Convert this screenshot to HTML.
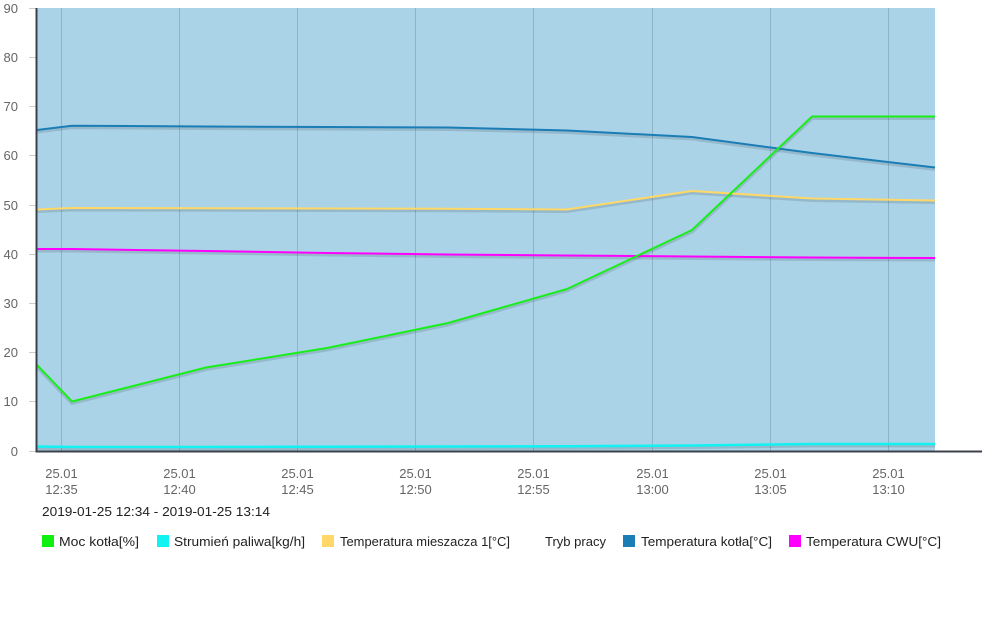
<!DOCTYPE html>
<html>
<head>
<meta charset="utf-8">
<style>
  html,body{margin:0;padding:0;background:#fff;}
  svg{display:block;}
  text{font-family:"Liberation Sans",sans-serif;}
</style>
</head>
<body>
<svg width="1000" height="626" viewBox="0 0 1000 626" xmlns="http://www.w3.org/2000/svg">
  <!-- plot background -->
  <rect x="37" y="8" width="898" height="443.5" fill="#aad3e8"/>
  <!-- vertical grid -->
  <g stroke="#8eb2c6" stroke-width="1">
    <line x1="61.5" y1="8" x2="61.5" y2="451"/>
    <line x1="179.5" y1="8" x2="179.5" y2="451"/>
    <line x1="297.5" y1="8" x2="297.5" y2="451"/>
    <line x1="415.5" y1="8" x2="415.5" y2="451"/>
    <line x1="533.5" y1="8" x2="533.5" y2="451"/>
    <line x1="652.5" y1="8" x2="652.5" y2="451"/>
    <line x1="770.5" y1="8" x2="770.5" y2="451"/>
    <line x1="888.5" y1="8" x2="888.5" y2="451"/>
  </g>
  <!-- y ticks -->
  <g stroke="#cccccc" stroke-width="1">
    <line x1="29" y1="8.5" x2="36" y2="8.5"/>
    <line x1="29" y1="57.5" x2="36" y2="57.5"/>
    <line x1="29" y1="106.5" x2="36" y2="106.5"/>
    <line x1="29" y1="155.5" x2="36" y2="155.5"/>
    <line x1="29" y1="205.5" x2="36" y2="205.5"/>
    <line x1="29" y1="254.5" x2="36" y2="254.5"/>
    <line x1="29" y1="303.5" x2="36" y2="303.5"/>
    <line x1="29" y1="352.5" x2="36" y2="352.5"/>
    <line x1="29" y1="401.5" x2="36" y2="401.5"/>
    <line x1="29" y1="451.5" x2="36" y2="451.5"/>
  </g>
  <g font-size="13" fill="#666" text-anchor="end">
    <text x="18" y="13">90</text>
    <text x="18" y="62">80</text>
    <text x="18" y="111">70</text>
    <text x="18" y="160">60</text>
    <text x="18" y="210">50</text>
    <text x="18" y="259">40</text>
    <text x="18" y="308">30</text>
    <text x="18" y="357">20</text>
    <text x="18" y="406">10</text>
    <text x="18" y="456">0</text>
  </g>

  <!-- series shadows -->
  <g fill="none" stroke="rgba(0,0,0,0.12)" stroke-width="4" stroke-linejoin="round" transform="translate(0,1.5)">
    <polyline points="37,130 72,125.7 206,126.5 327,127 448,127.5 567,130.5 692,137 812,153 935,167.5"/>
    <polyline points="37,209.5 72,208 206,208.2 327,208.5 448,208.8 567,209.5 692,191 812,198.5 935,200.5"/>
    <polyline points="37,249 72,249 206,251 327,253 448,254.5 567,255.5 692,256.5 812,257.5 935,258"/>
    <polyline points="37,365 72,401.5 206,367.5 327,348 448,323 567,289 692,230 812,116.5 935,116.5"/>
    <polyline points="37,446.5 72,447 206,447 327,446.8 448,446.5 567,446.3 692,445.5 812,444 935,444"/>
  </g>
  <!-- series -->
  <g fill="none" stroke-width="2" stroke-linejoin="round">
    <polyline stroke="#1a7db6" points="37,130 72,125.7 206,126.5 327,127 448,127.5 567,130.5 692,137 812,153 935,167.5"/>
    <polyline stroke="#ffd867" points="37,209.5 72,208 206,208.2 327,208.5 448,208.8 567,209.5 692,191 812,198.5 935,200.5"/>
    <polyline stroke="#ff00ff" points="37,249 72,249 206,251 327,253 448,254.5 567,255.5 692,256.5 812,257.5 935,258"/>
    <polyline stroke="#1aee1a" points="37,365 72,401.5 206,367.5 327,348 448,323 567,289 692,230 812,116.5 935,116.5"/>
    <polyline stroke="#11f2f2" stroke-width="2.5" points="37,446.5 72,447 206,447 327,446.8 448,446.5 567,446.3 692,445.5 812,444 935,444"/>
  </g>

  <!-- axes -->
  <line x1="36.5" y1="8" x2="36.5" y2="452" stroke="#3b424a" stroke-width="2"/>
  <line x1="35.5" y1="451.5" x2="982" y2="451.5" stroke="#3b424a" stroke-width="2"/>

  <!-- x labels -->
  <g font-size="13" fill="#666" text-anchor="middle">
    <text x="61.5" y="478">25.01</text><text x="61.5" y="494">12:35</text>
    <text x="179.5" y="478">25.01</text><text x="179.5" y="494">12:40</text>
    <text x="297.5" y="478">25.01</text><text x="297.5" y="494">12:45</text>
    <text x="415.5" y="478">25.01</text><text x="415.5" y="494">12:50</text>
    <text x="533.5" y="478">25.01</text><text x="533.5" y="494">12:55</text>
    <text x="652.5" y="478">25.01</text><text x="652.5" y="494">13:00</text>
    <text x="770.5" y="478">25.01</text><text x="770.5" y="494">13:05</text>
    <text x="888.5" y="478">25.01</text><text x="888.5" y="494">13:10</text>
  </g>

  <text x="42" y="516" font-size="13" fill="#222" textLength="228" lengthAdjust="spacingAndGlyphs">2019-01-25 12:34 - 2019-01-25 13:14</text>

  <!-- legend -->
  <g font-size="13" fill="#222">
    <rect x="42" y="535" width="12" height="12" fill="#11ee11"/>
    <text x="59" y="546" textLength="80" lengthAdjust="spacingAndGlyphs">Moc kotła[%]</text>
    <rect x="157" y="535" width="12" height="12" fill="#11f2f2"/>
    <text x="174" y="546" textLength="131" lengthAdjust="spacingAndGlyphs">Strumień paliwa[kg/h]</text>
    <rect x="322" y="535" width="12" height="12" fill="#ffd867"/>
    <text x="340" y="546" textLength="170" lengthAdjust="spacingAndGlyphs">Temperatura mieszacza 1[°C]</text>
    <text x="545" y="546" textLength="61" lengthAdjust="spacingAndGlyphs">Tryb pracy</text>
    <rect x="623" y="535" width="12" height="12" fill="#1a7db6"/>
    <text x="641" y="546" textLength="131" lengthAdjust="spacingAndGlyphs">Temperatura kotła[°C]</text>
    <rect x="789" y="535" width="12" height="12" fill="#ff00ff"/>
    <text x="806" y="546" textLength="135" lengthAdjust="spacingAndGlyphs">Temperatura CWU[°C]</text>
  </g>
</svg>
</body>
</html>
